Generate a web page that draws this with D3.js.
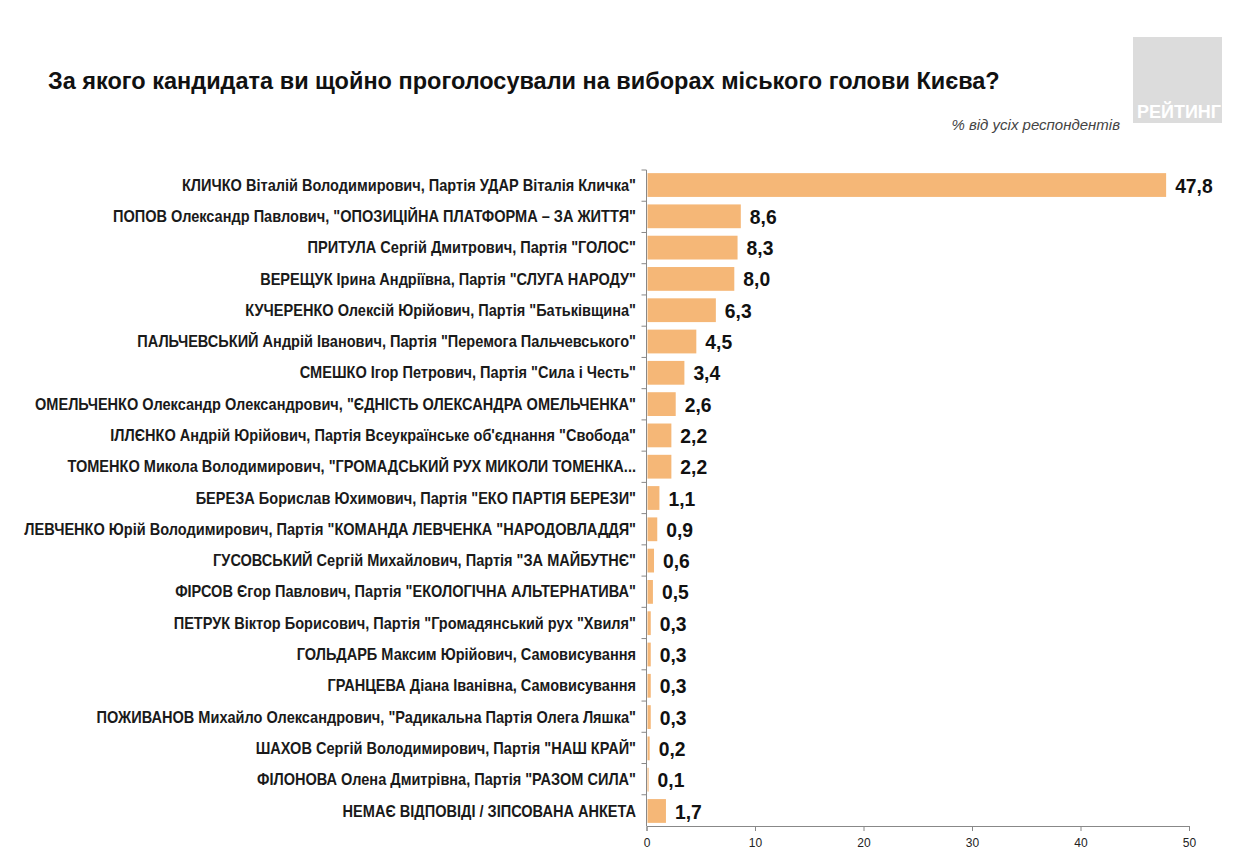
<!DOCTYPE html>
<html>
<head>
<meta charset="utf-8">
<script src="https://cdn.jsdelivr.net/npm/d3@7"></script>
<style>
  body { margin: 0; background: #fff; }
  svg text { font-family: "Liberation Sans", Arial, sans-serif; }
</style>
</head>
<body>
<div id="chart"></div>
<script>
// candidates, top to bottom
var candidates = [
    'КЛИЧКО Віталій Володимирович, Партія УДАР Віталія Кличка"',
    'ПОПОВ Олександр Павлович, "ОПОЗИЦІЙНА ПЛАТФОРМА – ЗА ЖИТТЯ"',
    'ПРИТУЛА Сергій Дмитрович, Партія "ГОЛОС"',
    'ВЕРЕЩУК Ірина Андріївна, Партія "СЛУГА НАРОДУ"',
    'КУЧЕРЕНКО Олексій Юрійович, Партія "Батьківщина"',
    'ПАЛЬЧЕВСЬКИЙ Андрій Іванович, Партія "Перемога Пальчевського"',
    'СМЕШКО Ігор Петрович, Партія "Сила і Честь"',
    'ОМЕЛЬЧЕНКО Олександр Олександрович, "ЄДНІСТЬ ОЛЕКСАНДРА ОМЕЛЬЧЕНКА"',
    'ІЛЛЄНКО Андрій Юрійович, Партія Всеукраїнське об\'єднання "Свобода"',
    'ТОМЕНКО Микола Володимирович, "ГРОМАДСЬКИЙ РУХ МИКОЛИ ТОМЕНКА...',
    'БЕРЕЗА Борислав Юхимович, Партія "ЕКО ПАРТІЯ БЕРЕЗИ"',
    'ЛЕВЧЕНКО Юрій Володимирович, Партія "КОМАНДА ЛЕВЧЕНКА "НАРОДОВЛАДДЯ"',
    'ГУСОВСЬКИЙ Сергій Михайлович, Партія "ЗА МАЙБУТНЄ"',
    'ФІРСОВ Єгор Павлович, Партія "ЕКОЛОГІЧНА АЛЬТЕРНАТИВА"',
    'ПЕТРУК Віктор Борисович, Партія "Громадянський рух "Хвиля"',
    'ГОЛЬДАРБ Максим Юрійович, Самовисування',
    'ГРАНЦЕВА Діана Іванівна, Самовисування',
    'ПОЖИВАНОВ Михайло Олександрович, "Радикальна Партія Олега Ляшка"',
    'ШАХОВ Сергій Володимирович, Партія "НАШ КРАЙ"',
    'ФІЛОНОВА Олена Дмитрівна, Партія "РАЗОМ СИЛА"',
    'НЕМАЄ ВІДПОВІДІ / ЗІПСОВАНА АНКЕТА'
];
var shares = [47.8, 8.6, 8.3, 8.0, 6.3, 4.5, 3.4, 2.6, 2.2, 2.2, 1.1, 0.9, 0.6, 0.5, 0.3, 0.3, 0.3, 0.3, 0.2, 0.1, 1.7];
var xTicks = [0, 10, 20, 30, 40, 50];

var title = 'За якого кандидата ви щойно проголосували на виборах міського голови Києва?';
var subtitle = '% від усіх респондентів';

var width = 1248, height = 865;
var plotLeft = 646.5, plotRight = 1189, plotTop = 170, plotBottom = 826;
var narrow = 0.91; // labels in the source use a condensed face

var svg = d3.select('#chart').append('svg')
    .attr('width', width)
    .attr('height', height);

var xScale = d3.scaleLinear().domain([0, 50]).range([plotLeft, plotRight]);
var yScale = d3.scaleBand()
    .domain(candidates)
    .range([plotTop, plotBottom])
    .paddingInner(0.24)
    .paddingOuter(0.1);

var fmt = function (v) { return d3.format('.1f')(v).replace('.', ','); };

// title
svg.append('text')
    .attr('x', 48).attr('y', 89)
    .style('font-weight', 'bold')
    .style('font-size', '23.5px')
    .style('fill', '#111')
    .text(title);

svg.append('text')
    .attr('x', 1120).attr('y', 130)
    .attr('text-anchor', 'end')
    .style('font-style', 'italic')
    .style('font-size', '15px')
    .style('fill', '#444')
    .text(subtitle);

// logo
svg.append('rect')
    .attr('x', 1133).attr('y', 37)
    .attr('width', 89).attr('height', 86)
    .style('fill', '#dcdcdc');
svg.append('text')
    .attr('x', 1179).attr('y', 118)
    .attr('text-anchor', 'middle')
    .style('font-weight', 'bold')
    .style('font-size', '18px')
    .style('fill', '#fff')
    .text('РЕЙТИНГ');

// bars
svg.selectAll('.bar')
    .data(candidates)
    .enter()
    .append('rect')
    .classed('bar', true)
    .attr('x', xScale(0) + 1)
    .attr('y', function (d) { return yScale(d); })
    .attr('width', function (d, i) { return xScale(shares[i]) - xScale(0); })
    .attr('height', yScale.bandwidth())
    .style('fill', '#f5b777');

// value labels
svg.selectAll('.val')
    .data(candidates)
    .enter()
    .append('text')
    .classed('val', true)
    .attr('transform', function (d, i) {
        return 'translate(' + (xScale(shares[i]) + 10) + ',' + (yScale(d) + yScale.bandwidth() / 2) + ') scale(0.92,1)';
    })
    .attr('dy', '0.36em')
    .style('font-weight', 'bold')
    .style('font-size', '21px')
    .style('fill', '#111')
    .text(function (d, i) { return fmt(shares[i]); });

// category labels
svg.selectAll('.cat')
    .data(candidates)
    .enter()
    .append('text')
    .classed('cat', true)
    .attr('transform', function (d) {
        return 'translate(636,' + (yScale(d) + yScale.bandwidth() / 2) + ') scale(' + narrow + ',1)';
    })
    .attr('dy', '0.35em')
    .attr('text-anchor', 'end')
    .style('font-weight', 'bold')
    .style('font-size', '16px')
    .style('fill', '#1a1a1a')
    .text(function (d) { return d; });

// y axis line and ticks between categories
var yAxisG = svg.append('g');
yAxisG.append('line')
    .attr('x1', plotLeft).attr('x2', plotLeft)
    .attr('y1', plotTop).attr('y2', plotBottom)
    .style('stroke', '#888');
d3.range(candidates.length).forEach(function (i) {
    var y = plotTop + i * (plotBottom - plotTop) / candidates.length;
    yAxisG.append('line')
        .attr('x1', plotLeft - 5).attr('x2', plotLeft)
        .attr('y1', y).attr('y2', y)
        .style('stroke', '#888');
});

// x axis
var xAxis = d3.axisBottom(xScale).tickValues(xTicks).tickSize(5).tickFormat(d3.format('d'));
var axisG = svg.append('g')
    .attr('transform', 'translate(0,' + plotBottom + ')')
    .call(xAxis);
axisG.select('.domain').style('stroke', '#888');
axisG.selectAll('.tick line').style('stroke', '#888');
axisG.selectAll('.tick text')
    .attr('y', 12)
    .style('font-size', '12px')
    .style('fill', '#222');
</script>
</body>
</html>
